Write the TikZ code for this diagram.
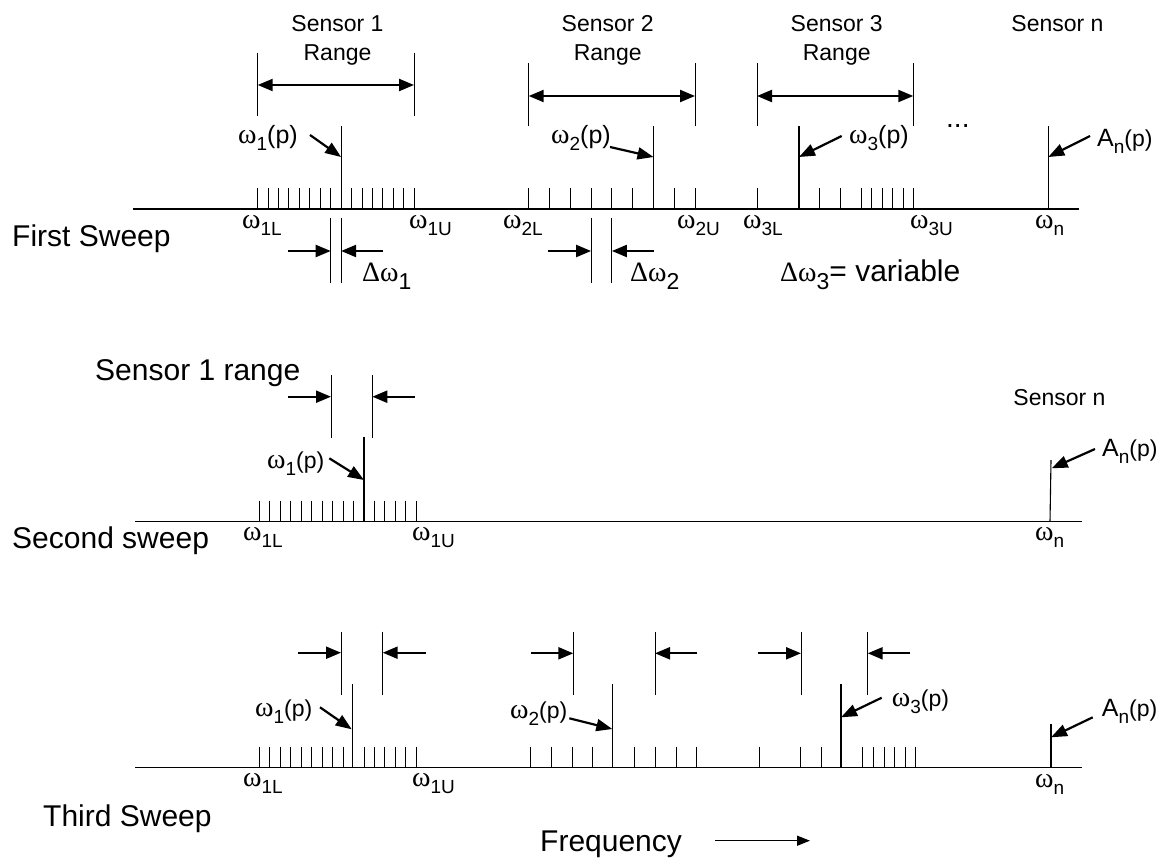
\documentclass[tikz,border=0pt]{standalone}
\usepackage{fontspec}
\usepackage{graphicx}
\setmainfont{Liberation Sans}
\newfontfamily\grk{Liberation Serif}
\usetikzlibrary{arrows.meta}
\newcommand{\fsz}[1]{\fontsize{#1}{#1}\selectfont}
\newcommand{\om}{{\grk\fsz{28}ω}}
\newcommand{\wl}[1]{\om\raisebox{-7pt}{\fsz{19}#1}}
\newcommand{\wpl}[2][23]{\om\raisebox{-7pt}{\fsz{19}#2}{\fsz{#1}(p)}}
\newcommand{\anp}{{\fsz{25}A}\raisebox{-7pt}{\fsz{19}n}{\fsz{23}(p)}}
\newcommand{\dwl}[1]{{\grk\fsz{28}Δω}\raisebox{-8pt}{\fsz{23}#1}}
\tikzset{
  axisline/.style={line width=1.2pt},
  tickline/.style={line width=1pt},
  peakline/.style={line width=1.1pt},
  bracketline/.style={line width=1pt},
  rangearrow/.style={line width=2.2pt,{Triangle[length=15pt,width=12pt]}-{Triangle[length=15pt,width=12pt]}},
  gaparrow/.style={line width=2.2pt,-{Triangle[length=15pt,width=12pt]}},
  labelarrow/.style={line width=2.2pt,-{Triangle[length=16pt,width=12pt]}},
  freqarrow/.style={line width=1.4pt,-{Triangle[length=13pt,width=10pt]}},
  lbl/.style={inner sep=0pt,anchor=base west},
  bigtext/.style={inner sep=0pt,anchor=base west,font=\fsz{30}},
  smalltext/.style={inner sep=0pt,anchor=base,font=\fsz{23}},
}
\begin{document}
\begin{tikzpicture}[x=1pt,y=-1pt]
\useasboundingbox[fill=white] (0,0) rectangle (1167,862);

% ================= FIRST SWEEP =================
\node[bigtext] (fs) at (12,246) {First Sweep};
\coordinate (ax1a) at (133,209);
\coordinate (ax1b) at (1079,209);
\draw[axisline] (ax1a) -- (ax1b);
% sensor 1 ticks
\foreach \i in {0,...,15} \draw[tickline] ({257.7+\i*10.43},188) -- ({257.7+\i*10.43},209);
\draw[peakline] (341.1,126) -- (341.1,209);
% sensor 2 ticks
\foreach \i in {0,...,8} \draw[tickline] ({528.7+\i*20.8},188) -- ({528.7+\i*20.8},209);
\draw[peakline] (653.5,126) -- (653.5,209);
% sensor 3 ticks
\foreach \x in {757,819.7,840.3,861,871.7,882.3,892.7,903,913.3} \draw[tickline] (\x,188) -- (\x,209);
\draw[peakline] (799,126) -- (799,209);
% sensor n
\draw[peakline] (1048.3,126) -- (1048.3,209);

% range brackets
\draw[bracketline] (257.7,53) -- (257.7,116);
\draw[bracketline] (414,53) -- (414,116);
\coordinate (r1a) at (257.7,85); \coordinate (r1b) at (414,85);
\draw[rangearrow] (r1a) -- (r1b);
\draw[bracketline] (528.7,63) -- (528.7,126);
\draw[bracketline] (695,63) -- (695,126);
\coordinate (r2a) at (528.7,96); \coordinate (r2b) at (695,96);
\draw[rangearrow] (r2a) -- (r2b);
\draw[bracketline] (757,63) -- (757,126);
\draw[bracketline] (913.3,63) -- (913.3,126);
\coordinate (r3a) at (757,96); \coordinate (r3b) at (913.3,96);
\draw[rangearrow] (r3a) -- (r3b);

\node[smalltext] (s1a) at (337.5,31.7) {Sensor 1};
\node[smalltext] (s1b) at (337.5,60) {Range};
\node[smalltext] (s2a) at (607.7,31.7) {Sensor 2};
\node[smalltext] (s2b) at (607.7,60) {Range};
\node[smalltext] (s3a) at (836.7,31.7) {Sensor 3};
\node[smalltext] (s3b) at (836.7,60) {Range};
\node[smalltext] (sna) at (1057.5,31.7) {Sensor n};
\node[lbl,font=\fsz{28}] (dots) at (946,127) {...};

% peak labels
\node[lbl] (p11) at (238,143.3) {\wpl[25]{1}};
\coordinate (p11s) at (310,135); \coordinate (p11e) at (341.1,157);
\draw[labelarrow] (p11s) -- (p11e);
\node[lbl] (p12) at (551,143.3) {\wpl[25]{2}};
\coordinate (p12s) at (610,147); \coordinate (p12e) at (653.5,157);
\draw[labelarrow] (p12s) -- (p12e);
\node[lbl] (p13) at (849,143.3) {\wpl[25]{3}};
\coordinate (p13s) at (841.7,136); \coordinate (p13e) at (799,157);
\draw[labelarrow] (p13s) -- (p13e);
\node[lbl] (p1n) at (1097,146.7) {\anp};
\coordinate (p1ns) at (1090,136); \coordinate (p1ne) at (1048.3,157);
\draw[labelarrow] (p1ns) -- (p1ne);

% axis labels
\node[lbl] (l1L) at (242,228.3) {\wl{1L}};
\node[lbl] (l1U) at (409,228.3) {\wl{1U}};
\node[lbl] (l2L) at (503,228.3) {\wl{2L}};
\node[lbl] (l2U) at (677,228.3) {\wl{2U}};
\node[lbl] (l3L) at (743,228.3) {\wl{3L}};
\node[lbl] (l3U) at (910,228.3) {\wl{3U}};
\node[lbl] (l1n) at (1035,228.3) {\wl{n}};

% delta omega markers
\draw[bracketline] (330.7,218) -- (330.7,283);
\draw[bracketline] (341.1,218) -- (341.1,283);
\coordinate (d1a) at (288,251); \coordinate (d1b) at (330.7,251);
\coordinate (d1c) at (383,251); \coordinate (d1d) at (341.1,251);
\draw[gaparrow] (d1a) -- (d1b);
\draw[gaparrow] (d1c) -- (d1d);
\node[lbl] (dw1) at (362,281.7) {\dwl{1}};
\draw[bracketline] (591.1,218) -- (591.1,283);
\draw[bracketline] (611.9,218) -- (611.9,283);
\coordinate (d2a) at (548,251); \coordinate (d2b) at (591.1,251);
\coordinate (d2c) at (654,251); \coordinate (d2d) at (611.9,251);
\draw[gaparrow] (d2a) -- (d2b);
\draw[gaparrow] (d2c) -- (d2d);
\node[lbl] (dw2) at (630,281.7) {\dwl{2}};
\node[lbl] (dw3) at (780,281.7) {\dwl{3}{\fsz{30}= variable}};

% ================= SECOND SWEEP =================
\node[bigtext] (ss) at (12,548.3) {Second sweep};
\coordinate (ax2a) at (135,521.7);
\coordinate (ax2b) at (1081.7,521.7);
\draw[axisline] (ax2a) -- (ax2b);
\foreach \i in {0,...,15} \draw[tickline] ({259.3+\i*10.47},500.7) -- ({259.3+\i*10.47},521.7);
\draw[peakline] (364,436.7) -- (364,521.7);
\draw[peakline] (1051,460) -- (1050,521.7);
\draw[bracketline] (331,375) -- (331,438.3);
\draw[bracketline] (372.3,375) -- (372.3,438.3);
\coordinate (e1a) at (288.3,396.7); \coordinate (e1b) at (331,396.7);
\coordinate (e1c) at (415,396.7); \coordinate (e1d) at (372.3,396.7);
\draw[gaparrow] (e1a) -- (e1b);
\draw[gaparrow] (e1c) -- (e1d);
\node[bigtext] (s1r) at (95,380) {Sensor 1 range};
\node[smalltext] (snb) at (1059.5,405) {Sensor n};
\node[lbl] (p21) at (267,468.3) {\wpl{1}};
\coordinate (p21s) at (329.3,458.3); \coordinate (p21e) at (364,480);
\draw[labelarrow] (p21s) -- (p21e);
\node[lbl] (p2n) at (1102,456.7) {\anp};
\coordinate (p2ns) at (1095,449); \coordinate (p2ne) at (1051.7,468.3);
\draw[labelarrow] (p2ns) -- (p2ne);
\node[lbl] (m1L) at (243,540) {\wl{1L}};
\node[lbl] (m1U) at (412,540) {\wl{1U}};
\node[lbl] (m1n) at (1035,540) {\wl{n}};

% ================= THIRD SWEEP =================
\node[bigtext] (ts) at (43,826.7) {Third Sweep};
\coordinate (ax3a) at (135,767.5);
\coordinate (ax3b) at (1081.7,767.5);
\draw[axisline] (ax3a) -- (ax3b);
\foreach \i in {0,...,8,10,11,12,13,14,15} \draw[tickline] ({259.3+\i*10.47},746.7) -- ({259.3+\i*10.47},767.5);
\draw[peakline] (352.3,684.3) -- (352.3,767.5);
\foreach \x in {530,551,572,592.7,634.3,655,676,696.7} \draw[tickline] (\x,746.7) -- (\x,767.5);
\draw[peakline] (612.7,684.3) -- (612.7,767.5);
\foreach \x in {759,800.7,821.3,862.7,873.3,884,894.3,905,915.3} \draw[tickline] (\x,746.7) -- (\x,767.5);
\draw[peakline] (841,684.3) -- (841,767.5);
\draw[peakline] (1051,724.3) -- (1051,767.5);

\draw[bracketline] (341,631.7) -- (341,695);
\draw[bracketline] (382.7,631.7) -- (382.7,695);
\coordinate (f1a) at (298.3,652.7); \coordinate (f1b) at (341,652.7);
\coordinate (f1c) at (425.7,652.7); \coordinate (f1d) at (382.7,652.7);
\draw[gaparrow] (f1a) -- (f1b);
\draw[gaparrow] (f1c) -- (f1d);
\draw[bracketline] (573.3,632.3) -- (573.3,695);
\draw[bracketline] (655,632.3) -- (655,695);
\coordinate (f2a) at (531,653.3); \coordinate (f2b) at (573.3,653.3);
\coordinate (f2c) at (697.3,653.3); \coordinate (f2d) at (655,653.3);
\draw[gaparrow] (f2a) -- (f2b);
\draw[gaparrow] (f2c) -- (f2d);
\draw[bracketline] (801,632.3) -- (801,695);
\draw[bracketline] (867.7,632.3) -- (867.7,695);
\coordinate (f3a) at (758.3,653.3); \coordinate (f3b) at (801,653.3);
\coordinate (f3c) at (910,653.3); \coordinate (f3d) at (867.7,653.3);
\draw[gaparrow] (f3a) -- (f3b);
\draw[gaparrow] (f3c) -- (f3d);

\node[lbl] (p31) at (255,716.7) {\wpl{1}};
\coordinate (p31s) at (320,707.3); \coordinate (p31e) at (351.7,729.3);
\draw[labelarrow] (p31s) -- (p31e);
\node[lbl] (p32) at (510,718.3) {\wpl{2}};
\coordinate (p32s) at (569.3,718.3); \coordinate (p32e) at (612.3,729);
\draw[labelarrow] (p32s) -- (p32e);
\node[lbl] (p33) at (891.7,706) {\wpl{3}};
\coordinate (p33s) at (881.7,697.7); \coordinate (p33e) at (841,717.3);
\draw[labelarrow] (p33s) -- (p33e);
\node[lbl] (p3n) at (1101.7,716.7) {\anp};
\coordinate (p3ns) at (1092.7,717.3); \coordinate (p3ne) at (1051,737.3);
\draw[labelarrow] (p3ns) -- (p3ne);

\node[lbl] (n1L) at (243,786.7) {\wl{1L}};
\node[lbl] (n1U) at (412,786.7) {\wl{1U}};
\node[lbl] (n1n) at (1035,787.7) {\wl{n}};

% frequency
\node[bigtext] (freq) at (540,851.7) {Frequency};
\coordinate (fqa) at (715,840.7); \coordinate (fqb) at (810,840.7);
\draw[freqarrow] (fqa) -- (fqb);
\end{tikzpicture}
\end{document}
